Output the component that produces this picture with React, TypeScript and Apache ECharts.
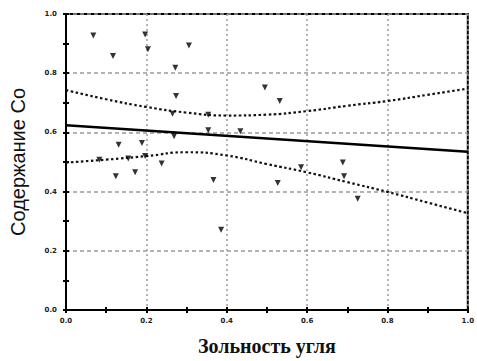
import React, { useEffect, useRef } from "react";
import * as echarts from "echarts";

const tickValues = [0, 0.2, 0.4, 0.6, 0.8, 1.0];
const xTitle = "Зольность угля";
const yTitle = "Содержание Со";

const pointsX = [0.068, 0.117, 0.197, 0.204, 0.306, 0.272, 0.274, 0.265, 0.495, 0.532, 0.354, 0.354, 0.434, 0.269, 0.131, 0.189, 0.083, 0.238, 0.124, 0.172, 0.367, 0.386, 0.527, 0.689, 0.692, 0.585, 0.726, 0.197, 0.155];
const pointsY = [0.927, 0.858, 0.931, 0.881, 0.894, 0.818, 0.723, 0.663, 0.752, 0.706, 0.660, 0.607, 0.604, 0.587, 0.558, 0.564, 0.508, 0.495, 0.452, 0.465, 0.439, 0.271, 0.429, 0.498, 0.452, 0.482, 0.376, 0.520, 0.512];

const fitX = [0, 1];
const fitY = [0.624, 0.535];

const bandX = [0, 0.1, 0.2, 0.3, 0.4, 0.5, 0.6, 0.7, 0.8, 0.9, 1.0];
const upperBand = [0.743, 0.712, 0.686, 0.667, 0.657, 0.660, 0.672, 0.690, 0.706, 0.727, 0.748];
const lowerBand = [0.498, 0.508, 0.520, 0.533, 0.522, 0.493, 0.465, 0.432, 0.399, 0.363, 0.327];

const zip = (a: number[], b: number[]) => a.map((v, i) => [v, b[i]]);

export default function App() {
  const ref = useRef<HTMLDivElement>(null);
  useEffect(() => {
    if (!ref.current) return;
    const chart = echarts.init(ref.current, null, { renderer: "svg" });
    const labelStyle = {
      fontFamily: "DejaVu Sans",
      fontSize: 7,
      fontWeight: "bold" as const,
      color: "#222",
      formatter: (v: number) => v.toFixed(1),
    };
    const tick = { show: true, inside: true, length: 3, lineStyle: { color: "#000", width: 2 } };
    const minor = { show: true, splitNumber: 2, length: 3, lineStyle: { color: "#000", width: 2 } };
    chart.setOption({
      animation: false,
      backgroundColor: "#fff",
      grid: {
        left: 59,
        right: 6,
        top: 14,
        bottom: 44,
        show: true,
        borderColor: "#000",
        borderWidth: 2,
        backgroundColor: "transparent",
      },
      xAxis: [
        {
          type: "value",
          min: 0,
          max: 1,
          interval: 0.2,
          name: xTitle,
          nameLocation: "middle",
          nameGap: 26,
          nameTextStyle: { fontFamily: "Liberation Serif", fontSize: 20, fontWeight: "bold", color: "#111" },
          axisLine: { show: true, lineStyle: { color: "#000", width: 2 } },
          axisTick: tick,
          minorTick: minor,
          axisLabel: { ...labelStyle, margin: 7 },
          splitLine: {
            show: true,
            lineStyle: { color: "#9a9a9a", width: 1.5, type: [2, 3] },
          },
        },
        {
          type: "value",
          position: "top",
          min: 0,
          max: 1,
          interval: 0.2,
          axisLine: { show: true, lineStyle: { color: "#000", width: 2 } },
          axisTick: tick,
          minorTick: minor,
          axisLabel: { show: false },
          splitLine: { show: false },
        },
      ],
      yAxis: [
        {
          type: "value",
          min: 0,
          max: 1,
          interval: 0.2,
          name: yTitle,
          nameLocation: "middle",
          nameGap: 38,
          nameTextStyle: { fontFamily: "Liberation Sans", fontSize: 20, color: "#111" },
          axisLine: { show: true, lineStyle: { color: "#000", width: 2 } },
          axisTick: tick,
          minorTick: minor,
          axisLabel: { ...labelStyle, margin: 9 },
          splitLine: {
            show: true,
            lineStyle: { color: "#9a9a9a", width: 1.5, type: [4, 3] },
          },
        },
        {
          type: "value",
          position: "right",
          min: 0,
          max: 1,
          interval: 0.2,
          axisLine: { show: true, lineStyle: { color: "#000", width: 2 } },
          axisTick: tick,
          minorTick: minor,
          axisLabel: { show: false },
          splitLine: { show: false },
        },
      ],
      series: [
        {
          type: "line",
          data: zip(bandX, upperBand),
          showSymbol: false,
          smooth: true,
          lineStyle: { color: "#111", width: 2.2, type: [2.5, 2.5] },
          z: 3,
        },
        {
          type: "line",
          data: zip(bandX, lowerBand),
          showSymbol: false,
          smooth: true,
          lineStyle: { color: "#111", width: 2.2, type: [2.5, 2.5] },
          z: 3,
        },
        {
          type: "line",
          data: zip(fitX, fitY),
          showSymbol: false,
          lineStyle: { color: "#000", width: 2.5 },
          z: 4,
        },
        {
          type: "scatter",
          data: zip(pointsX, pointsY),
          symbol: "triangle",
          symbolRotate: 180,
          symbolSize: 6,
          itemStyle: { color: "#000" },
          z: 5,
        },
      ],
    });
    return () => chart.dispose();
  }, []);
  return (
    <div
      ref={ref}
      style={{ position: "fixed", left: 0, top: 0, width: 477, height: 361, background: "#fff" }}
    />
  );
}
